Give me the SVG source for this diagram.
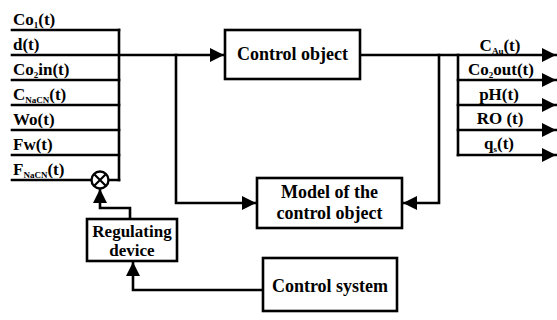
<svg xmlns="http://www.w3.org/2000/svg" width="557" height="320" viewBox="0 0 557 320">
  <style>
    .ln { fill: none; stroke: #000; stroke-width: 2.6; stroke-linecap: square; }
    .box { fill: #fff; stroke: #000; stroke-width: 2.6; }
    text { font-family: "Liberation Serif", serif; font-weight: 700; fill: #000; }
    .lbl { font-size: 17px; }
    .big { font-size: 18px; }
    .sub { font-size: 9px; }
  </style>
  <defs>
    <marker id="arr" markerUnits="userSpaceOnUse" markerWidth="16" markerHeight="14" refX="14" refY="7" orient="auto">
      <path d="M0,0 L14,7 L0,14 z" fill="#000"/>
    </marker>
  </defs>
  <rect width="557" height="320" fill="#fff"/>

  <!-- connectors -->
  <g id="connectors">
    <!-- input bus -->
    <path class="ln" d="M119,30 V180"/>
    <path class="ln" d="M12,30 H119 M12,80 H119 M12,105 H119 M12,130 H119 M12,155 H119 M12,180 H92 M108,180 H119"/>
    <path class="ln" d="M12,55 H224" marker-end="url(#arr)"/>
    <!-- branch to model -->
    <path class="ln" d="M176,55 V203 H256" marker-end="url(#arr)"/>
    <!-- output from control object -->
    <path class="ln" d="M360,55 H556" marker-end="url(#arr)"/>
    <path class="ln" d="M439,55 V203 H403" marker-end="url(#arr)"/>
    <!-- output bus -->
    <path class="ln" d="M458,55 V155"/>
    <path class="ln" d="M458,80 H556" marker-end="url(#arr)"/>
    <path class="ln" d="M458,105 H556" marker-end="url(#arr)"/>
    <path class="ln" d="M458,130 H556" marker-end="url(#arr)"/>
    <path class="ln" d="M458,155 H556" marker-end="url(#arr)"/>
    <!-- regulating device to summing junction -->
    <path class="ln" d="M130,219 V208 H100 V189" marker-end="url(#arr)"/>
    <!-- control system to regulating device -->
    <path class="ln" d="M263,290 H133 V262" marker-end="url(#arr)"/>
  </g>

  <!-- input signals -->
  <g id="inputs" class="lbl">
    <text x="13" y="25">Co<tspan class="sub" dy="3">1</tspan><tspan dy="-3">(t)</tspan></text>
    <text x="13" y="50">d(t)</text>
    <text x="13" y="75">Co<tspan class="sub" dy="3">2</tspan><tspan dy="-3">in(t)</tspan></text>
    <text x="13" y="100">C<tspan class="sub" dy="3">NaCN</tspan><tspan dy="-3">(t)</tspan></text>
    <text x="13" y="125">Wo(t)</text>
    <text x="13" y="150">Fw(t)</text>
    <text x="13" y="175">F<tspan class="sub" dy="3">NaCN</tspan><tspan dy="-3">(t)</tspan></text>
  </g>

  <!-- output signals -->
  <g id="outputs" class="lbl" text-anchor="middle">
    <text x="500" y="51">C<tspan class="sub" dy="3">Au</tspan><tspan dy="-3">(t)</tspan></text>
    <text x="501" y="75">Co<tspan class="sub" dy="3">2</tspan><tspan dy="-3">out(t)</tspan></text>
    <text x="499" y="100">pH(t)</text>
    <text x="500" y="124">RO (t)</text>
    <text x="499" y="149">q<tspan class="sub" dy="3">s</tspan><tspan dy="-3">(t)</tspan></text>
  </g>

  <!-- summing junction -->
  <g id="junction">
    <circle cx="100" cy="180" r="8.5" fill="#fff" stroke="#000" stroke-width="2.4"/>
    <path d="M94,174 L106,186 M106,174 L94,186" stroke="#000" stroke-width="2.2"/>
  </g>

  <g id="control-object">
    <rect class="box" x="225" y="30" width="135" height="49"/>
    <text class="big" x="292.5" y="60" text-anchor="middle">Control object</text>
  </g>

  <g id="model">
    <rect class="box" x="257" y="178" width="145" height="50"/>
    <text class="big" x="329.5" y="198" text-anchor="middle">Model of the</text>
    <text class="big" x="329.5" y="219" text-anchor="middle">control object</text>
  </g>

  <g id="regulating-device">
    <rect class="box" x="87" y="219" width="90" height="42"/>
    <text font-size="17" x="132" y="237" text-anchor="middle">Regulating</text>
    <text font-size="17" x="132" y="256" text-anchor="middle">device</text>
  </g>

  <g id="control-system">
    <rect class="box" x="263" y="258" width="134" height="53"/>
    <text class="big" x="330" y="292" text-anchor="middle">Control system</text>
  </g>
</svg>
